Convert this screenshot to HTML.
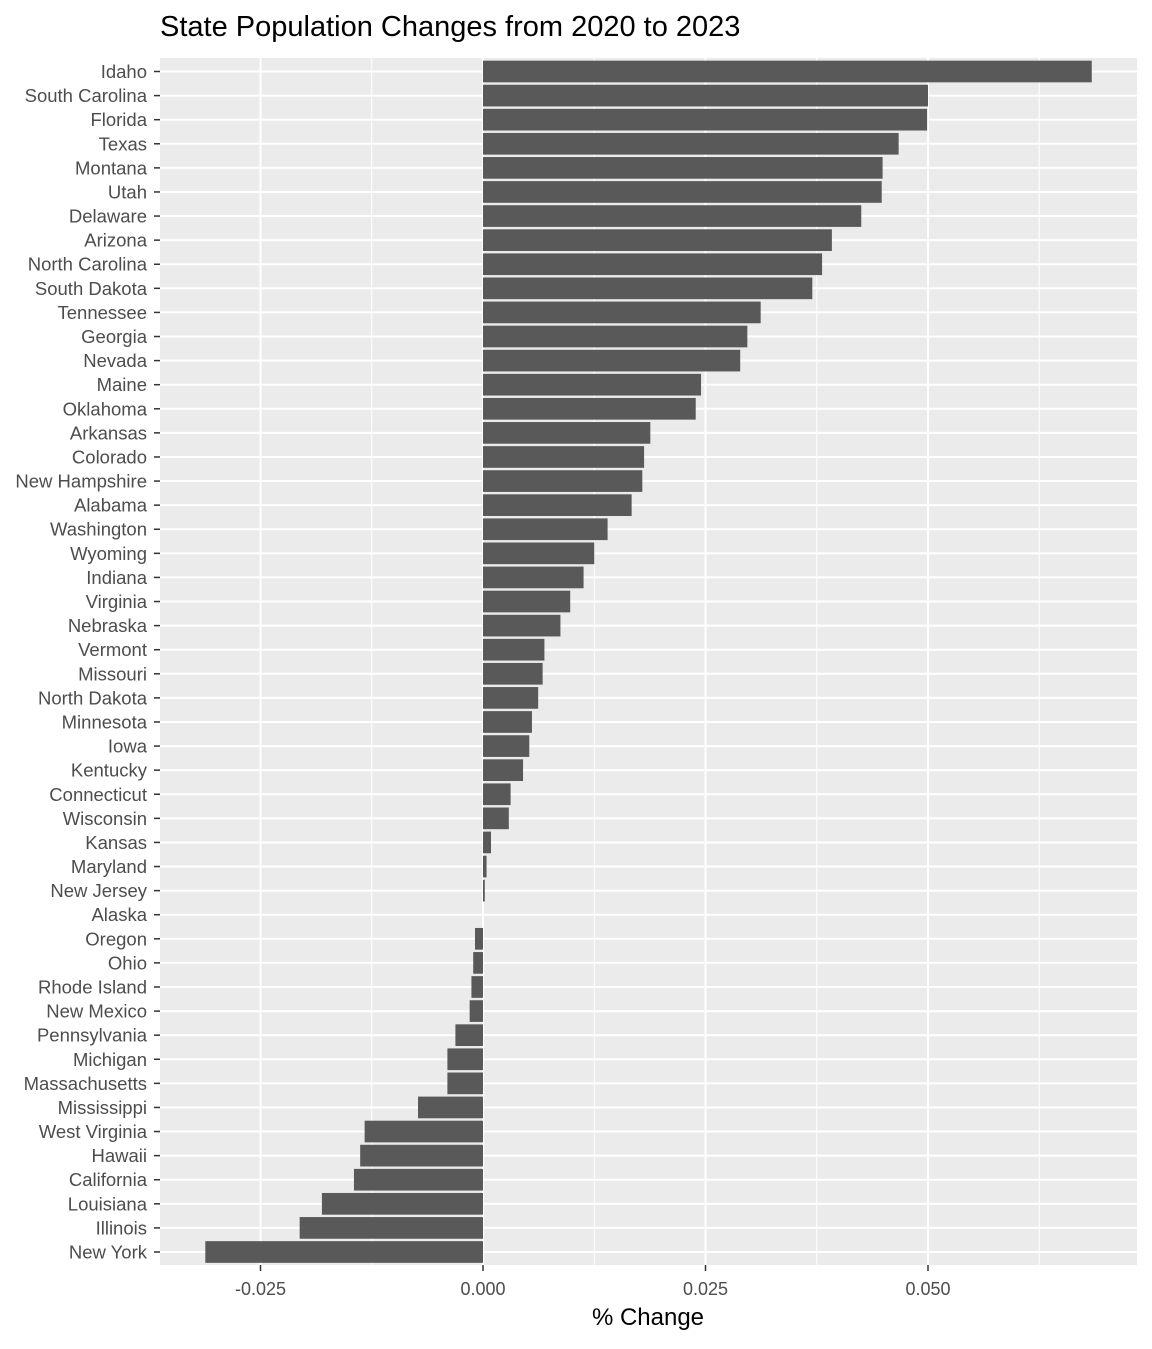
<!DOCTYPE html>
<html><head><meta charset="utf-8"><style>
body{margin:0;background:#fff;}
svg text{font-family:"Liberation Sans",Arial,sans-serif;}
</style></head><body>
<svg id="chart" width="1152" height="1344" xmlns="http://www.w3.org/2000/svg">
<text x="160" y="36" font-size="29" fill="#000">State Population Changes from 2020 to 2023</text>
<rect x="160" y="58" width="977" height="1207" fill="#ebebeb"/>
<g id="grid"></g><g id="bars"></g><g id="ylabels"></g><g id="xaxis"></g>
<text x="648" y="1325" font-size="24" text-anchor="middle" fill="#000">% Change</text>
</svg>
<script>
const states=["Idaho","South Carolina","Florida","Texas","Montana","Utah","Delaware","Arizona","North Carolina","South Dakota","Tennessee","Georgia","Nevada","Maine","Oklahoma","Arkansas","Colorado","New Hampshire","Alabama","Washington","Wyoming","Indiana","Virginia","Nebraska","Vermont","Missouri","North Dakota","Minnesota","Iowa","Kentucky","Connecticut","Wisconsin","Kansas","Maryland","New Jersey","Alaska","Oregon","Ohio","Rhode Island","New Mexico","Pennsylvania","Michigan","Massachusetts","Mississippi","West Virginia","Hawaii","California","Louisiana","Illinois","New York"];
const changes=[0.0684,0.0500,0.0499,0.0467,0.0449,0.0448,0.0425,0.0392,0.0381,0.0370,0.0312,0.0297,0.0289,0.0245,0.0239,0.0188,0.0181,0.0179,0.0167,0.0140,0.0125,0.0113,0.0098,0.0087,0.0069,0.0067,0.0062,0.0055,0.0052,0.0045,0.0031,0.0029,0.0009,0.0004,0.0002,0.0000,-0.0009,-0.0011,-0.0013,-0.0015,-0.0031,-0.0040,-0.0040,-0.0073,-0.0133,-0.0138,-0.0145,-0.0181,-0.0206,-0.0312];
const majorTicks=[-0.025,0,0.025,0.05];
const tickLabels=["-0.025","0.000","0.025","0.050"];
const minorTicks=[-0.0125,0.0125,0.0375,0.0625];
const NS="http://www.w3.org/2000/svg";
const x=v=>483+v*8900;
const step=(1252-71.5)/(states.length-1);
const y=i=>71.5+i*step;
const bh=step*0.9;
function mk(t,a,p){const e=document.createElementNS(NS,t);for(const k in a)e.setAttribute(k,a[k]);p.appendChild(e);return e;}
const grid=document.getElementById('grid'),bars=document.getElementById('bars'),yl=document.getElementById('ylabels'),xa=document.getElementById('xaxis');
minorTicks.forEach(v=>{const l=mk('line',{x1:x(v),x2:x(v),y1:58,y2:1265,stroke:'#fff','stroke-width':1},grid);

});
majorTicks.forEach((v,i)=>{const l=mk('line',{x1:x(v),x2:x(v),y1:58,y2:1265,stroke:'#fff','stroke-width':2},grid);


const tk=mk('line',{x1:x(v),x2:x(v),y1:1265,y2:1271,stroke:'#333','stroke-width':1.5},xa);


const t=mk('text',{x:x(v),y:1295,'font-size':18,'text-anchor':'middle',fill:'#4d4d4d'},xa);t.textContent=tickLabels[i];

});
states.forEach((s,i)=>{const cy=y(i);
const g=mk('line',{x1:160,x2:1137,y1:cy,y2:cy,stroke:'#fff','stroke-width':2},grid);


const v=changes[i];const x0=Math.min(x(0),x(v));const w=Math.abs(x(v)-x(0));
const r=mk('rect',{x:x0,y:cy-bh/2,width:w,height:bh,fill:'#595959'},bars);


const tk=mk('line',{x1:154,x2:160,y1:cy,y2:cy,stroke:'#333','stroke-width':1.5},yl);


const t=mk('text',{x:147,y:cy+6.5,'font-size':18.5,'text-anchor':'end',fill:'#4d4d4d'},yl);t.textContent=s;

});
</script>
</body></html>
